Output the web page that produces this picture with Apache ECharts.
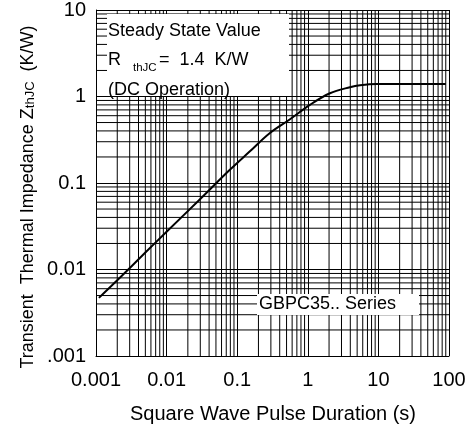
<!DOCTYPE html>
<html><head><meta charset="utf-8">
<script src="https://cdn.jsdelivr.net/npm/echarts@6/dist/echarts.min.js"></script>
<style>html,body{margin:0;padding:0;background:#fff}#c{width:471px;height:430px}</style>
</head><body><div id="c"></div>
<script>
// Square wave pulse duration (s) and transient thermal impedance ZthJC (K/W)
const pulseDuration = [0.0011, 0.002, 0.005, 0.01, 0.029, 0.078, 0.15, 0.288, 0.56, 1.07, 2.06, 3.95, 5.5, 9.5, 90];
const zthJC        = [0.0047, 0.0075, 0.0157, 0.0273, 0.0636, 0.141, 0.231, 0.376, 0.545, 0.80, 1.09, 1.28, 1.35, 1.394, 1.394];
const xTickLabels = ['0.001', '0.01', '0.1', '1', '10', '100'];
const yTickLabels = ['.001', '0.01', '0.1', '1', '10'];
const xDecades = [0.001, 0.01, 0.1, 1, 10, 100];
const yDecades = [0.001, 0.01, 0.1, 1, 10];
const minorMultipliers = [2, 3, 4, 5, 6, 7, 8, 9];

const FONT = '"Liberation Sans", Arial, Helvetica, sans-serif';
const xMin = xDecades[0], xMax = xDecades[xDecades.length - 1];
const yMin = yDecades[0], yMax = yDecades[yDecades.length - 1];

function minorValues(decades) {
  const out = [];
  for (let i = 0; i < decades.length - 1; i++) {
    for (const m of minorMultipliers) out.push(+(m * decades[i]).toPrecision(6));
  }
  return out;
}
function labelFor(decades, labels) {
  return function (v) {
    for (let i = 0; i < decades.length; i++) {
      if (Math.abs(Math.log10(v) - Math.log10(decades[i])) < 1e-6) return labels[i];
    }
    return '';
  };
}
const minorX = minorValues(xDecades);
const minorY = minorValues(yDecades);

function renderHorizontal(params, api) {
  const v = api.value(1);
  const y = api.coord([1, v])[1];
  const x1 = api.coord([xMin, 1])[0];
  const x2 = api.coord([xMax, 1])[0];
  return { type: 'line', shape: { x1: x1, y1: y, x2: x2, y2: y }, style: { stroke: '#000', lineWidth: 1 } };
}

// vertical minor grid lines drawn as line series through the log scales
const verticalGridSeries = minorX.map(v => ({
  type: 'line', z: 2, silent: true, clip: false, showSymbol: false, symbol: 'none',
  data: [[v, yMin], [v, yMax]],
  lineStyle: { color: '#000', width: 1 }
}));

const chart = echarts.init(document.getElementById('c'), null, { renderer: 'canvas' });
chart.setOption({
  animation: false,
  backgroundColor: '#fff',
  grid: { left: 96, right: 22, top: 10, bottom: 74, containLabel: false },
  xAxis: {
    type: 'log', logBase: 10, min: xMin, max: xMax,
    axisLine: { show: true, lineStyle: { color: '#000', width: 1 } },
    axisTick: { show: false },
    axisLabel: { color: '#000', fontSize: 20, fontFamily: FONT, margin: 14, formatter: labelFor(xDecades, xTickLabels), showMinLabel: true, showMaxLabel: true },
    splitLine: { show: true, lineStyle: { color: '#000', width: 1 } }
  },
  yAxis: {
    type: 'log', logBase: 10, min: yMin, max: yMax,
    axisLine: { show: true, lineStyle: { color: '#000', width: 1 } },
    axisTick: { show: false },
    axisLabel: { color: '#000', fontSize: 20, fontFamily: FONT, margin: 10, formatter: labelFor(yDecades, yTickLabels), showMinLabel: true, showMaxLabel: true },
    splitLine: { show: true, lineStyle: { color: '#000', width: 1 } }
  },
  series: [
    { type: 'custom', clip: false, renderItem: renderHorizontal,
      data: minorY.map(v => [1, v]) },
    {
      type: 'line', z: 5,
      data: pulseDuration.map((x, i) => [x, zthJC[i]]),
      showSymbol: false, smooth: 0.35,
      lineStyle: { color: '#000', width: 2, join: 'round' }
    }
  ].concat(verticalGridSeries),
  graphic: [
    { type: 'rect', z: 100, shape: { x: 107, y: 14, width: 182, height: 82 }, style: { fill: '#fff' } },
    { type: 'text', z: 101, x: 108, y: 31, style: { text: 'Steady State Value', fill: '#000', font: '18px ' + FONT, verticalAlign: 'middle', align: 'left' } },
    { type: 'text', z: 101, x: 108, y: 60, style: { text: 'R', fill: '#000', font: '18px ' + FONT, verticalAlign: 'middle', align: 'left' } },
    { type: 'text', z: 101, x: 133, y: 68, style: { text: 'thJC', fill: '#000', font: '11.5px ' + FONT, verticalAlign: 'middle', align: 'left' } },
    { type: 'text', z: 101, x: 159, y: 60, style: { text: '=  1.4  K/W', fill: '#000', font: '18px ' + FONT, verticalAlign: 'middle', align: 'left' } },
    { type: 'text', z: 101, x: 108, y: 90, style: { text: '(DC Operation)', fill: '#000', font: '18px ' + FONT, verticalAlign: 'middle', align: 'left' } },
    { type: 'rect', z: 100, shape: { x: 257, y: 294, width: 162, height: 21 }, style: { fill: '#fff' } },
    { type: 'text', z: 101, x: 259, y: 304.5, style: { text: 'GBPC35.. Series', fill: '#000', font: '18px ' + FONT, verticalAlign: 'middle', align: 'left' } },
    { type: 'text', z: 101, x: 273, y: 414, style: { text: 'Square Wave Pulse Duration (s)', fill: '#000', font: '20px ' + FONT, verticalAlign: 'middle', align: 'center' } },
    { type: 'text', z: 101, x: 28, y: 197, rotation: Math.PI / 2, style: {
        text: '{a|Transient  Thermal Impedance Z}{s|thJC}{a|  (K/W)}', align: 'center', verticalAlign: 'middle',
        rich: {
          a: { fontSize: 18, fontFamily: FONT, fill: '#000', lineHeight: 18 },
          s: { fontSize: 13, fontFamily: FONT, fill: '#000', lineHeight: 14, verticalAlign: 'bottom' }
        } } }
  ]
});
</script>
</body></html>
